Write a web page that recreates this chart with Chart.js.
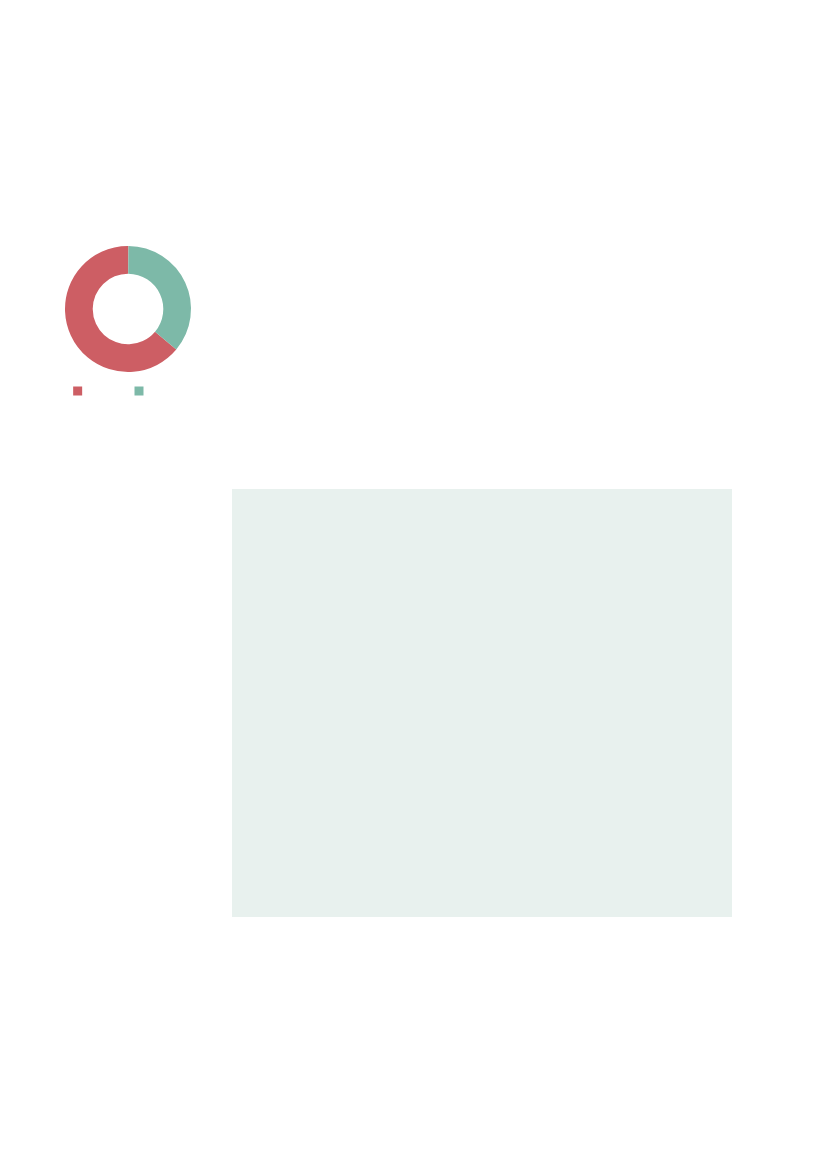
<!DOCTYPE html>
<html>
<head>
<meta charset="utf-8">
<script src="https://cdn.jsdelivr.net/npm/chart.js@4"></script>
<style>
  html, body { margin: 0; padding: 0; background: #fff; }
  body { width: 827px; height: 1169px; position: relative; overflow: hidden; }
  #donutBox { position: absolute; left: 48px; top: 246px; width: 160px; height: 161px; }
  #panel { position: absolute; left: 232px; top: 489px; width: 500px; height: 428px; background: #e8f1ee; }
</style>
</head>
<body>
<div id="donutBox"><canvas id="donut"></canvas></div>
<div id="panel"></div>
<script>
const categories = ['', ''];
const values = [64, 36];
const colors = ['#cd5e64', '#7db9a8'];

// legend shows no names, only the swatches, so pad with blanks for the gap
const legendPad = '          ';

new Chart(document.getElementById('donut'), {
  type: 'doughnut',
  data: {
    labels: categories,
    datasets: [{
      data: values,
      backgroundColor: colors,
      borderWidth: 0
    }]
  },
  options: {
    responsive: true,
    maintainAspectRatio: false,
    animation: false,
    cutout: '56%',
    rotation: 130,
    layout: { padding: 0 },
    plugins: {
      tooltip: { enabled: false },
      legend: {
        position: 'bottom',
        labels: {
          boxWidth: 9,
          boxHeight: 9,
          padding: 13,
          font: { family: 'Liberation Sans', size: 12 },
          generateLabels(chart) {
            return Chart.overrides.doughnut.plugins.legend.labels.generateLabels(chart)
              .map(item => ({ ...item, text: (item.text || '') + legendPad, strokeStyle: 'rgba(0,0,0,0)', lineWidth: 0 }));
          }
        }
      }
    }
  }
});
</script>
</body>
</html>
